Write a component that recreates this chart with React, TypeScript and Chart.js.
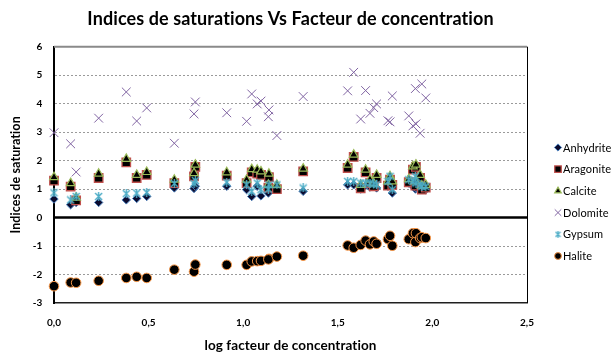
import React, { useEffect, useRef } from 'react';
import { Chart, registerables, PointElement } from 'chart.js';

Chart.register(...registerables);

// ---- data ----
const logFactor = [0, 0.088, 0.117, 0.236, 0.382, 0.437, 0.49, 0.636, 0.74, 0.747, 0.913, 1.018, 1.045, 1.074, 1.094, 1.136, 1.133, 1.178, 1.317, 1.552, 1.584, 1.621, 1.647, 1.67, 1.69, 1.705, 1.765, 1.776, 1.788, 1.875, 1.897, 1.91, 1.913, 1.935, 1.944, 1.965];
const anhydrite = [0.65, 0.45, 0.53, 0.53, 0.62, 0.67, 0.74, 1.04, 1.02, 1.1, 1.1, 0.98, 0.74, 1.1, 0.76, 1.0, 0.86, 0.98, 0.92, 1.15, 1.15, 1.0, 1.12, 1.07, 1.1, 1.04, 1.1, 1.21, 0.86, 1.21, 1.1, 1.0, 1.04, 1.0, 1.0, 0.98];
const aragonite = [1.3, 1.09, 0.6, 1.39, 1.94, 1.39, 1.5, 1.21, 1.45, 1.78, 1.47, 1.21, 1.59, 1.54, 1.5, 1.42, 1.05, 1.0, 1.62, 1.74, 2.13, 1.03, 1.59, 1.21, 1.1, 1.39, 1.12, 1.33, 1.15, 1.24, 1.68, 1.12, 1.78, 1.39, 0.98, 1.05];
const calcite = [1.42, 1.21, 0.7, 1.54, 2.06, 1.5, 1.6, 1.33, 1.56, 1.86, 1.59, 1.33, 1.7, 1.68, 1.62, 1.54, 1.15, 1.15, 1.72, 1.86, 2.21, 1.15, 1.68, 1.33, 1.2, 1.5, 1.27, 1.45, 1.27, 1.35, 1.8, 1.27, 1.86, 1.5, 1.12, 1.15];
const dolomite = [2.98, 2.59, 1.6, 3.49, 4.41, 3.39, 3.85, 2.61, 3.64, 4.06, 3.68, 3.38, 4.34, 3.99, 4.09, 3.78, 3.54, 2.88, 4.25, 4.45, 5.1, 3.46, 4.46, 3.66, 3.86, 3.99, 3.4, 3.36, 4.27, 3.57, 3.22, 4.53, 3.29, 2.96, 4.69, 4.2];
const gypsum = [0.87, 0.62, 0.74, 0.74, 0.84, 0.86, 0.88, 1.2, 1.2, 1.3, 1.24, 1.15, 0.92, 1.21, 0.98, 1.15, 1.0, 1.15, 1.04, 1.27, 1.27, 1.21, 1.21, 1.21, 1.18, 1.15, 1.27, 1.45, 0.98, 1.33, 1.27, 1.45, 1.21, 1.15, 1.09, 1.09];
const halite = [-2.41, -2.28, -2.29, -2.22, -2.12, -2.08, -2.12, -1.83, -1.9, -1.65, -1.66, -1.66, -1.54, -1.53, -1.52, -1.45, -1.47, -1.37, -1.34, -0.98, -1.06, -0.96, -0.81, -0.94, -0.84, -0.92, -0.76, -0.64, -0.99, -0.76, -0.55, -0.86, -0.55, -0.72, -0.69, -0.72];

const seriesNames = ['Anhydrite', 'Aragonite', 'Calcite', 'Dolomite', 'Gypsum', 'Halite'];
const seriesValues = [anhydrite, aragonite, calcite, dolomite, gypsum, halite];

const xMin = 0, xMax = 2.5, xStep = 0.5;
const yMin = -3, yMax = 6, yStep = 1;

const titleText = 'Indices de saturations Vs Facteur de concentration';
const xTitle = 'log facteur de concentration';
const yTitle = 'Indices de saturation';

// ---- styles ----
function makeStar(size: number, color: string, lw: number) {
  const c = document.createElement('canvas');
  c.width = size;
  c.height = size;
  const g = c.getContext('2d')!;
  g.strokeStyle = color;
  g.lineWidth = lw;
  const m = 1;
  g.beginPath();
  g.moveTo(m, m); g.lineTo(size - m, size - m);
  g.moveTo(size - m, m); g.lineTo(m, size - m);
  g.moveTo(size / 2, 0); g.lineTo(size / 2, size);
  g.stroke();
  return c;
}

export default function App() {
  const ref = useRef<HTMLCanvasElement>(null);

  useEffect(() => {
    const gypStar = makeStar(9, '#4BACC6', 1.4);
    const gypStarSmall = makeStar(7, '#4BACC6', 1.2);

    const styles: any[] = [
      { pointStyle: 'rectRot', radius: 4.2, bg: '#0b0b2e', border: '#4A7EBB', bw: 1, lr: 3.6 },
      { pointStyle: 'rect', radius: 6, bg: '#000000', border: '#C0504D', bw: 1.3, lr: 4.6 },
      { pointStyle: 'triangle', radius: 5, bg: '#000000', border: '#9BBB59', bw: 1.2, lr: 3.8 },
      { pointStyle: 'crossRot', radius: 6.2, bg: '#8064A2', border: '#8064A2', bw: 1, lr: 4.6 },
      { pointStyle: gypStar, radius: 4.5, bg: '#4BACC6', border: '#4BACC6', bw: 1, lr: 3.5, legendStyle: gypStarSmall },
      { pointStyle: 'circle', radius: 4.8, bg: '#000000', border: '#F79646', bw: 1, lr: 3.4 },
    ];

    const datasets = seriesNames.map((name, i) => ({
      label: name,
      data: logFactor.map((x, j) => ({ x, y: seriesValues[i][j] })),
      pointStyle: styles[i].pointStyle,
      pointRadius: styles[i].radius,
      pointHoverRadius: styles[i].radius,
      pointBackgroundColor: styles[i].bg,
      pointBorderColor: styles[i].border,
      pointBorderWidth: styles[i].bw,
      backgroundColor: styles[i].bg,
      borderColor: styles[i].border,
      showLine: false,
      clip: false as any,
      order: seriesNames.length - 1 - i,
    }));

    const noLigPlugin = {
      id: 'noLig',
      beforeDraw(chart: any) {
        try { (chart.ctx as any).letterSpacing = '0.1px'; } catch (e) { /* ignore */ }
      },
    };

    const framePlugin = {
      id: 'frame',
      beforeDatasetsDraw(chart: any) {
        const { ctx, chartArea: a, scales } = chart;
        ctx.save();
        ctx.strokeStyle = '#8a8a8a';
        ctx.lineWidth = 2;
        ctx.beginPath();
        ctx.moveTo(a.left, a.top);
        ctx.lineTo(a.right, a.top);
        ctx.stroke();
        ctx.strokeStyle = '#000';
        ctx.lineWidth = 1;
        ctx.beginPath();
        ctx.moveTo(a.right + 0.5, a.top);
        ctx.lineTo(a.right + 0.5, a.bottom);
        ctx.stroke();
        const y0 = scales.y.getPixelForValue(0);
        ctx.lineWidth = 2.5;
        ctx.beginPath();
        ctx.moveTo(a.left, y0);
        ctx.lineTo(a.right, y0);
        ctx.stroke();
        ctx.restore();
      },
    };

    const legendPlugin = {
      id: 'sideLegend',
      afterDraw(chart: any) {
        const { ctx, chartArea: a } = chart;
        const mx = a.right + 31;
        const step = 21.7;
        const top = 147.5;
        ctx.save();
        chart.data.datasets.forEach((ds: any, i: number) => {
          const y = top + i * step;
          const st = styles[i];
          const pe: any = new PointElement({} as any);
          pe.x = mx;
          pe.y = y;
          pe.options = {
            pointStyle: st.legendStyle || st.pointStyle,
            radius: st.lr,
            rotation: 0,
            borderWidth: st.bw,
            backgroundColor: st.bg,
            borderColor: st.border,
          };
          pe.draw(ctx);
          ctx.fillStyle = '#000';
          ctx.font = '11px Lato';
          ctx.textAlign = 'left';
          ctx.textBaseline = 'middle';
          ctx.fillText(ds.label, mx + 5, y + 0.5);
        });
        ctx.restore();
      },
    };

    const tickFont = { family: 'Lato', size: 10, weight: 'bold' as const };

    const chart = new Chart(ref.current!, {
      type: 'scatter',
      data: { datasets: datasets as any },
      options: {
        responsive: false,
        animation: false,
        layout: { padding: { left: 0, right: 87, top: 0, bottom: 0 } },
        plugins: {
          legend: { display: false },
          tooltip: { enabled: false },
          title: {
            display: true,
            text: titleText,
            fullSize: false,
            color: '#000',
            font: { family: 'Lato', size: 18, weight: 'bold', lineHeight: 1.2 },
            padding: { top: 8.2, bottom: 16.9 },
          },
        },
        scales: {
          x: {
            type: 'linear',
            min: xMin,
            max: xMax,
            grid: { display: false, drawTicks: false },
            border: { display: true, color: '#202020', width: 1.5 },
            ticks: {
              stepSize: xStep,
              padding: 14,
              color: '#000',
              font: tickFont,
              maxRotation: 0,
              callback: (v: any) => Number(v).toFixed(1).replace('.', ','),
            },
            title: {
              display: true,
              text: xTitle,
              color: '#000',
              font: { family: 'Lato', size: 13.5, weight: 'bold', lineHeight: 1.2 },
              padding: { top: 0, bottom: 2 },
            },
            afterFit: (s: any) => { s.height = 53; },
          },
          y: {
            type: 'linear',
            min: yMin,
            max: yMax,
            grid: {
              drawTicks: false,
              color: (c: any) => {
                const v = c.tick ? c.tick.value : null;
                if (v === 0 || v === yMax || v === yMin) return 'rgba(0,0,0,0)';
                return '#9a9a9a';
              },
              lineWidth: 1,
            },
            border: { display: true, color: '#000', width: 2, dash: [2, 2] },
            ticks: {
              stepSize: yStep,
              padding: 11.5,
              color: '#000',
              font: tickFont,
              callback: (v: any) => String(v),
            },
            title: {
              display: true,
              text: yTitle,
              color: '#000',
              font: { family: 'Lato', size: 12.5, weight: 'bold', lineHeight: 1.2 },
              padding: { top: 8.5, bottom: 0 },
            },
            afterFit: (s: any) => { s.width = 54; },
          },
        },
      },
      plugins: [noLigPlugin, framePlugin, legendPlugin],
    });

    return () => chart.destroy();
  }, []);

  return (
    <div style={{ position: 'fixed', left: 0, top: 0, width: 614, height: 356, background: '#fff' }}>
      <canvas ref={ref} width={614} height={356} style={{ display: 'block' }} />
    </div>
  );
}
